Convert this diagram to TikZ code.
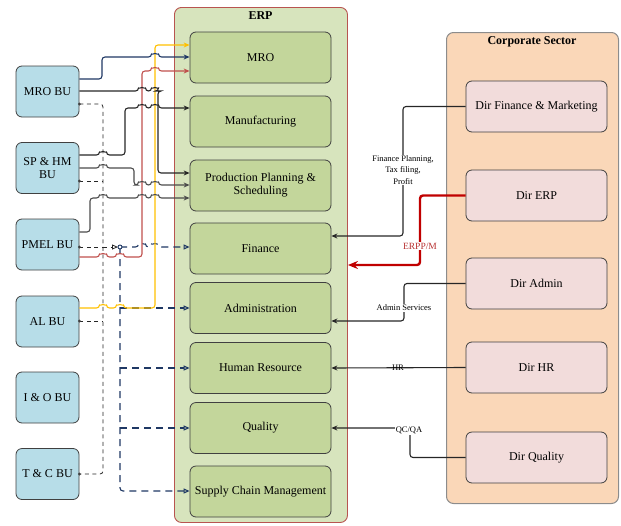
\documentclass[tikz,border=0pt]{standalone}
\usepackage{fontspec}
\setmainfont{Liberation Serif}
\usetikzlibrary{arrows.meta,calc}

\definecolor{erpfill}{HTML}{D7E4BD}
\definecolor{erpedge}{HTML}{B85450}
\definecolor{modfill}{HTML}{C3D69B}
\definecolor{bufill}{HTML}{B7DDE8}
\definecolor{corpfill}{HTML}{FAD7B8}
\definecolor{corpedge}{HTML}{8C8C8C}
\definecolor{dirfill}{HTML}{F2DCDB}
\definecolor{boxedge}{HTML}{404040}
\definecolor{navy}{HTML}{1F3864}
\definecolor{linkred}{HTML}{C0504D}
\definecolor{linkyellow}{HTML}{FFC000}
\definecolor{erpred}{HTML}{C00000}
\definecolor{labelred}{HTML}{B83232}

% a small semicircular hop over a vertical wire at x=#1 on a horizontal run at y=#2
\newcommand\jumpat[2]{-- ({#1-3.5},#2) arc[start angle=180,end angle=360,radius=3.5]}

\begin{document}
\begin{tikzpicture}[x=1pt,y=-1pt,
  txt/.style={font=\fontsize{12}{13}\selectfont},
  module/.style={draw=boxedge, line width=0.8pt, rounded corners=6pt, fill=modfill,
    minimum width=141pt, minimum height=51pt, align=center, inner sep=1pt, txt},
  director/.style={module, fill=dirfill},
  unit/.style={draw=boxedge, line width=0.8pt, rounded corners=6pt, fill=bufill,
    minimum width=63pt, minimum height=51pt, align=center, inner sep=1pt, txt},
  wire/.style={line width=1.1pt, rounded corners=3pt},
  blk/.style={wire, draw=black!85},
  tipb/.style={-{Stealth[length=6pt,width=5pt]}},
  tipo/.style={-{Triangle[open,length=6pt,width=5pt]}},
  dsh/.style={wire, line width=0.8pt, draw=black!85, dash pattern=on 4pt off 3.5pt},
  ndsh/.style={wire, draw=navy, dash pattern=on 7pt off 5pt},
  tag/.style={fill=white, inner sep=1pt, align=center},
]
\useasboundingbox (0,0) rectangle (621,525);

% containers
\node[draw=erpedge, line width=0.9pt, fill=erpfill, rounded corners=7pt,
  minimum width=173pt, minimum height=515pt, anchor=north west] (erp) at (174,7) {};
\node[font=\bfseries\fontsize{12}{13}\selectfont] (erptitle) at (260.5,16) {ERP};
\node[draw=corpedge, line width=1pt, fill=corpfill, rounded corners=7pt,
  minimum width=172pt, minimum height=471pt, anchor=north west] (corp) at (446,32) {};
\node[font=\bfseries\fontsize{12}{13}\selectfont] (corptitle) at (532,42) {Corporate Sector};

% ERP modules
\node[module] (mro)  at (260.5,57.5)  {MRO};
\node[module] (manu) at (260.5,121.5) {Manufacturing};
\node[module] (pps)  at (260.5,185.5) {Production Planning \&\\Scheduling};
\node[module] (fin)  at (260.5,248.5) {Finance};
\node[module] (adm)  at (260.5,308)   {Administration};
\node[module] (hr)   at (260.5,368)   {Human Resource};
\node[module] (qual) at (260.5,428)   {Quality};
\node[module] (scm)  at (260.5,491.5) {Supply Chain Management};

% directorates
\node[director] (dfm)  at (536.5,106.5) {Dir Finance \& Marketing};
\node[director] (derp) at (536.5,195.5) {Dir ERP};
\node[director] (dadm) at (536.5,283.5) {Dir Admin};
\node[director] (dhr)  at (536.5,367.5) {Dir HR};
\node[director] (dq)   at (536.5,457.5) {Dir Quality};

% business units
\node[unit] (mrobu) at (47.5,91.5)  {MRO BU};
\node[unit] (sphm)  at (47.5,168)   {SP \& HM\\BU};
\node[unit] (pmel)  at (47.5,244.5) {PMEL BU};
\node[unit] (albu)  at (47.5,321.5) {AL BU};
\node[unit] (iobu)  at (47.5,397.5) {I \& O BU};
\node[unit] (tcbu)  at (47.5,474)   {T \& C BU};

% dashed reporting bus from the units
\coordinate (merge) at (103,247);
\coordinate (hub) at (120,247);
\draw[dsh] (mrobu.east |- 0,104) -- (103,104) -- (103,474) -- (tcbu.east |- 0,474);
\draw[dsh] (sphm.east |- 0,181) -- (103,181);
\draw[dsh] (albu.east |- 0,321) -- (103,321);
\draw[dsh] (pmel.east |- 0,247) -- (merge);
\draw[dsh, tipo, rounded corners=0pt] (merge) -- ($(hub)+(-2,0)$);
\foreach \yy/\bu in {104/mrobu,181/sphm,247/pmel,321/albu,474/tcbu}
  \fill[boxedge] (\bu.east |- 0,\yy) circle (1.6);

% navy dashed distribution to support modules
\draw[ndsh, tipo] (hub) \jumpat{142}{247} \jumpat{155}{247} -- (fin.west |- 0,247);
\draw[ndsh, tipo] (hub) -- (120,491) -- (scm.west |- 0,491);
\draw[ndsh, tipo] (120,308) -- (adm.west |- 0,308);
\draw[ndsh, tipo] (120,368) -- (hr.west |- 0,368);
\draw[ndsh, tipo] (120,428) -- (qual.west |- 0,428);
\draw[navy, line width=0.9pt, fill=white] (hub) circle (2);

% operational links
\draw[wire, draw=linkyellow, tipb] (albu.east |- 0,308) \jumpat{103}{308} \jumpat{120}{308}
  -- (155,308) -- (155,45) -- (mro.west |- 0,45);
\draw[wire, draw=linkred, tipb] (pmel.east |- 0,257) \jumpat{103}{257} \jumpat{120}{257}
  -- (142,257) -- (142,71) \jumpat{155}{71} -- (mro.west |- 0,71);
\draw[wire, draw=navy, tipb] (mrobu.east |- 0,79) -- (102,79) -- (102,57)
  \jumpat{155}{57} -- (mro.west |- 0,57);
\draw[blk, tipb] (mrobu.east |- 0,91) \jumpat{142}{91} \jumpat{155}{91}
  -- (158,91) -- (158,173) -- (pps.west |- 0,173);
\draw[blk, tipb] (sphm.east |- 0,155) \jumpat{103}{155} -- (125,155) -- (125,108)
  \jumpat{142}{108} \jumpat{155}{108} -- (manu.west |- 0,108);
\draw[blk, draw=black!70, tipb] (sphm.east |- 0,168) \jumpat{103}{168} -- (134,168) -- (134,185)
  \jumpat{142}{185} \jumpat{155}{185} -- (pps.west |- 0,185);
\draw[blk, draw=black!70, tipb] (pmel.east |- 0,232) -- (90,232) -- (90,198)
  \jumpat{103}{198} \jumpat{142}{198} \jumpat{155}{198} -- (pps.west |- 0,198);

% corporate services
\draw[blk, tipb] (dfm.west) -- (403,106.5) -- (403,236) -- (fin.east |- 0,236);
\node[tag, font=\fontsize{8.5}{11.5}\selectfont] (lfin) at (403,170)
  {Finance Planning,\\Tax filing,\\Profit};
\draw[wire, draw=erpred, line width=2.4pt, -{Stealth[length=10pt,width=8pt]}]
  (derp.west) -- (420,195.5) -- (420,265) -- (erp.east |- 0,265);
\node[tag, text=labelred, font=\fontsize{9.5}{11}\selectfont] (lerp) at (420,246) {ERPP/M};
\draw[blk, tipb] (dadm.west) -- (404,283.5) -- (404,321) -- (adm.east |- 0,321);
\node[tag, font=\fontsize{8.5}{10}\selectfont] (ladm) at (404,308) {Admin Services};
\draw[blk, tipb] (dhr.west) -- (hr.east);
\node[tag, fill=none, font=\fontsize{8.5}{10}\selectfont] (lhr) at (398,368) {HR};
\draw[blk, tipb] (dq.west) -- (410,457.5) -- (410,428) -- (qual.east |- 0,428);
\node[tag, font=\fontsize{8.5}{10}\selectfont] (lqa) at (409,430) {QC/QA};
\end{tikzpicture}
\end{document}
